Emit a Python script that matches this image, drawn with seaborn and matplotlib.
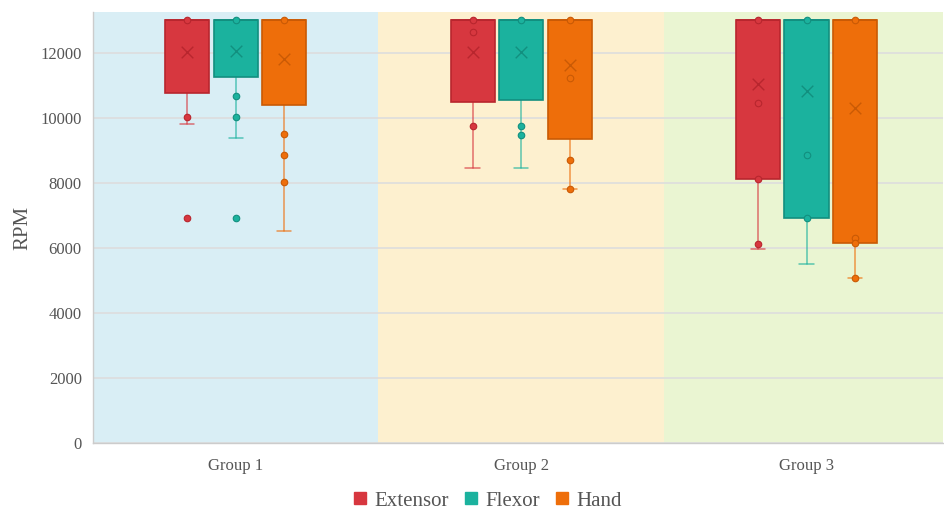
import numpy as np
import pandas as pd
import matplotlib
matplotlib.use("Agg")
from matplotlib import pyplot as plt
from matplotlib.lines import Line2D
import seaborn as sns

# data
groups = ['Group 1', 'Group 2', 'Group 3']
series = ['Extensor', 'Flexor', 'Hand']

ext_q1 = [10760, 10500, 8120]
ext_med = [13000, 13000, 13000]
ext_q3 = [13000, 13000, 13000]
ext_lo = [9800, 8450, 5980]
ext_hi = [13000, 13000, 13000]
ext_mean = [12040, 12040, 11050]

flex_q1 = [11270, 10550, 6910]
flex_med = [13000, 13000, 13000]
flex_q3 = [13000, 13000, 13000]
flex_lo = [9380, 8450, 5500]
flex_hi = [13000, 13000, 13000]
flex_mean = [12060, 12040, 10830]

hand_q1 = [10400, 9340, 6140]
hand_med = [13000, 13000, 13000]
hand_q3 = [13000, 13000, 13000]
hand_lo = [6520, 7800, 5070]
hand_hi = [13000, 13000, 13000]
hand_mean = [11810, 11630, 10320]

ext_points = [[13000, 10020, 6910], [13000, 12650, 9750], [13000, 10450, 8120, 6130]]
flex_points = [[13000, 10690, 10020, 6910], [13000, 9750, 9480], [13000, 8860, 6910]]
hand_points = [[13000, 9510, 8860, 8040], [13000, 11220, 8710, 7800], [13000, 6300, 6140, 5070]]

stats = {
    'Extensor': (ext_q1, ext_med, ext_q3, ext_lo, ext_hi, ext_mean, ext_points),
    'Flexor': (flex_q1, flex_med, flex_q3, flex_lo, flex_hi, flex_mean, flex_points),
    'Hand': (hand_q1, hand_med, hand_q3, hand_lo, hand_hi, hand_mean, hand_points),
}

colors = {'Extensor': '#D7373F', 'Flexor': '#1BB29E', 'Hand': '#EE6E0A'}
edges = {'Extensor': '#B8262E', 'Flexor': '#128F7F', 'Hand': '#C95A05'}
bg_colors = ['#D9EEF5', '#FDF0CF', '#EAF5D2']
offsets = {'Extensor': -0.17, 'Flexor': 0.0, 'Hand': 0.17}
box_w = 0.155

sns.set_theme(style="white")
plt.rcParams['font.family'] = ['Liberation Serif', 'DejaVu Serif']

fig = plt.figure(figsize=(9.44, 5.12), dpi=100)
ax = fig.add_axes([0.0985, 0.1348, 0.9005, 0.8418])

for i in range(len(groups)):
    ax.axvspan(i - 0.5, i + 0.5, color=bg_colors[i], zorder=0, lw=0)

# box stats -> bxp
for s in series:
    q1, med, q3, lo, hi, mean, pts = stats[s]
    bstats = []
    for i in range(len(groups)):
        bstats.append({'q1': q1[i], 'med': med[i], 'q3': q3[i],
                       'whislo': lo[i], 'whishi': hi[i], 'fliers': []})
    pos = [i + offsets[s] for i in range(len(groups))]
    ax.bxp(bstats, positions=pos, widths=box_w, patch_artist=True,
           showfliers=False, capwidths=0.05, manage_ticks=False,
           boxprops=dict(facecolor=colors[s], edgecolor=edges[s], lw=1.2, zorder=3),
           medianprops=dict(color=edges[s], lw=1.2, zorder=4),
           whiskerprops=dict(color=colors[s], lw=1.1, alpha=0.7, zorder=2),
           capprops=dict(color=colors[s], lw=1.1, alpha=0.7, zorder=2))

# points and means as long tables
rows = []
mrows = []
for s in series:
    q1, med, q3, lo, hi, mean, pts = stats[s]
    for i, g in enumerate(groups):
        for v in pts[i]:
            rows.append({'series': s, 'x': i + offsets[s], 'RPM': v})
        mrows.append({'series': s, 'x': i + offsets[s], 'RPM': mean[i]})
pts_df = pd.DataFrame(rows)
mean_df = pd.DataFrame(mrows)

for s in series:
    sub = pts_df[pts_df['series'] == s]
    sns.scatterplot(data=sub, x='x', y='RPM', color=colors[s], edgecolor=edges[s],
                    linewidth=0.8, s=22, ax=ax, zorder=5, legend=False)
    msub = mean_df[mean_df['series'] == s]
    sns.scatterplot(data=msub, x='x', y='RPM', color=edges[s], marker='x',
                    s=70, linewidth=1.0, ax=ax, zorder=5, legend=False)

ax.set_xlim(-0.5, 2.478)
ax.set_ylim(0, 13260)
ax.set_yticks(np.arange(0, 13000, 2000))
ax.set_xticks(range(len(groups)))
ax.set_xticklabels(groups)
ax.set_xlabel('')
ax.set_ylabel('RPM', fontsize=15, color='#555555', labelpad=6)
ax.tick_params(axis='both', length=0, labelsize=12, colors='#555555', pad=8)
ax.tick_params(axis='x', pad=11)

ax.set_axisbelow(True)
ax.yaxis.grid(True, color='#DDDDDD', lw=1.2)
ax.xaxis.grid(False)
for sp in ['top', 'right']:
    ax.spines[sp].set_visible(False)
for sp in ['left', 'bottom']:
    ax.spines[sp].set_color('#CCCCCC')
    ax.spines[sp].set_linewidth(1.0)

handles = [Line2D([], [], marker='s', ls='', markersize=9, color=colors[s]) for s in series]
fig.legend(handles, series, loc='center', bbox_to_anchor=(0.509, 0.022), ncol=3,
           frameon=False, fontsize=15, handletextpad=-0.3, columnspacing=0.05,
           labelcolor='#555555')

plt.savefig('out.png', dpi=100)
